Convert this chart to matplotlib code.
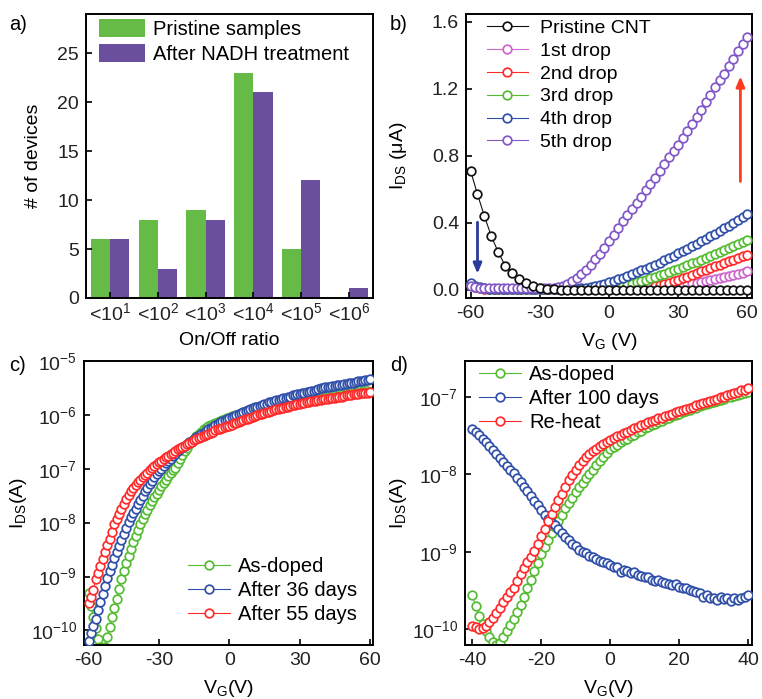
import numpy as np
import matplotlib
matplotlib.use('Agg')
import matplotlib.pyplot as plt

plt.rcParams['font.family'] = ['Liberation Sans', 'DejaVu Sans']
plt.rcParams['mathtext.fontset'] = 'custom'
plt.rcParams['mathtext.rm'] = 'Liberation Sans'
plt.rcParams['mathtext.it'] = 'Liberation Sans:italic'
plt.rcParams['mathtext.default'] = 'regular'
plt.rcParams['axes.unicode_minus'] = False

FS = 14

# ---------------- panel a: histogram of on/off ratio ----------------
a_cats = ['<10$^1$', '<10$^2$', '<10$^3$', '<10$^4$', '<10$^5$', '<10$^6$']
a_pristine = [6, 8, 9, 23, 5, 0]
a_nadh = [6, 3, 8, 21, 12, 1]

# ---------------- panel b: I_DS (uA) vs V_G, linear ----------------
b_vg_black = np.arange(-60, 61, 3)
b_black = [0.71, 0.57, 0.44, 0.32, 0.225, 0.145, 0.10, 0.065, 0.04, 0.022, 0.012, 0.006, 0.003,
           0.002, 0.002, 0.002, 0.002, 0.002, 0.002, 0.002, 0.002, 0.002, 0.002, 0.002, 0.002, 0.002, 0.002,
           0.002, 0.002, 0.002, 0.002, 0.002, 0.002, 0.002, 0.002, 0.002, 0.002, 0.002, 0.002, 0.002, 0.002]
b_vg = np.arange(-60, 61, 2)
b_drop1 = [0.03, 0.018, 0.01, 0.007, 0.005, 0.005, 0.005, 0.005, 0.005, 0.005,
           0.005, 0.005, 0.005, 0.005, 0.005, 0.005, 0.005, 0.005, 0.005, 0.005,
           0.005, 0.005, 0.005, 0.005, 0.005, 0.005, 0.005, 0.005, 0.005, 0.005,
           0.005, 0.005, 0.005, 0.005, 0.005, 0.005, 0.005, 0.005, 0.005, 0.008,
           0.01, 0.013, 0.016, 0.019, 0.023, 0.027, 0.031, 0.035, 0.039, 0.044,
           0.049, 0.054, 0.059, 0.064, 0.07, 0.076, 0.082, 0.088, 0.095, 0.102, 0.11]
b_drop2 = [0.035, 0.02, 0.012, 0.008, 0.006, 0.005, 0.005, 0.005, 0.005, 0.005,
           0.005, 0.005, 0.005, 0.005, 0.005, 0.005, 0.005, 0.005, 0.005, 0.005,
           0.005, 0.005, 0.005, 0.005, 0.005, 0.005, 0.005, 0.005, 0.005, 0.005,
           0.005, 0.005, 0.005, 0.005, 0.005, 0.006, 0.008, 0.01, 0.014, 0.018,
           0.023, 0.029, 0.036, 0.043, 0.051, 0.06, 0.07, 0.08, 0.09, 0.1,
           0.11, 0.12, 0.13, 0.14, 0.15, 0.16, 0.17, 0.18, 0.19, 0.2, 0.21]
b_drop3 = [0.035, 0.022, 0.013, 0.009, 0.007, 0.006, 0.006, 0.006, 0.006, 0.006,
           0.006, 0.006, 0.006, 0.006, 0.006, 0.006, 0.006, 0.006, 0.006, 0.006,
           0.006, 0.006, 0.006, 0.006, 0.006, 0.006, 0.006, 0.006, 0.006, 0.006,
           0.008, 0.012, 0.017, 0.023, 0.03, 0.037, 0.045, 0.053, 0.061, 0.07,
           0.079, 0.088, 0.097, 0.107, 0.117, 0.127, 0.137, 0.147, 0.158, 0.169,
           0.18, 0.191, 0.202, 0.213, 0.225, 0.237, 0.249, 0.261, 0.273, 0.286, 0.3]
b_drop4 = [0.04, 0.025, 0.015, 0.01, 0.008, 0.008, 0.008, 0.008, 0.008, 0.008,
           0.008, 0.008, 0.008, 0.008, 0.008, 0.008, 0.008, 0.008, 0.008, 0.008,
           0.008, 0.008, 0.008, 0.008, 0.009, 0.012, 0.017, 0.023, 0.03, 0.038,
           0.046, 0.055, 0.064, 0.074, 0.084, 0.094, 0.105, 0.116, 0.127, 0.139,
           0.151, 0.163, 0.176, 0.19, 0.204, 0.218, 0.232, 0.246, 0.261, 0.276,
           0.291, 0.306, 0.321, 0.336, 0.352, 0.368, 0.384, 0.4, 0.416, 0.433, 0.45]
b_drop5 = [0.025, 0.018, 0.014, 0.012, 0.011, 0.01, 0.01, 0.01, 0.01, 0.01,
           0.01, 0.01, 0.01, 0.01, 0.01, 0.01, 0.01, 0.01, 0.012, 0.016,
           0.025, 0.037, 0.052, 0.07, 0.092, 0.12, 0.15, 0.183, 0.217, 0.252,
           0.29, 0.33, 0.37, 0.41, 0.445, 0.48, 0.52, 0.556, 0.594, 0.632,
           0.67, 0.71, 0.75, 0.79, 0.828, 0.865, 0.907, 0.949, 0.991, 1.033,
           1.075, 1.119, 1.163, 1.207, 1.249, 1.29, 1.334, 1.378, 1.422, 1.466, 1.51]

# ---------------- panel c: log10 I_DS (A) vs V_G ----------------
c_vg = np.arange(-60, 61, 1)
c_asdoped = [-9.3, -9.55, -9.75, -9.95, -10.15, -10.3, -10.4, -10.3, -10.12, -9.93,
             -9.76, -9.58, -9.41, -9.23, -9.05, -8.89, -8.75, -8.61, -8.48, -8.36,
             -8.25, -8.14, -8.02, -7.93, -7.84, -7.76, -7.68, -7.6, -7.53, -7.46,
             -7.39, -7.32, -7.26, -7.2, -7.14, -7.08, -7.03, -6.98, -6.9, -6.82,
             -6.75, -6.68, -6.61, -6.55, -6.49, -6.44, -6.39, -6.35, -6.31, -6.27,
             -6.24, -6.21, -6.19, -6.17, -6.15, -6.13, -6.11, -6.09, -6.08, -6.06,
             -6.05, -6.03, -6.02, -6.0, -5.98, -5.97, -5.95, -5.94, -5.92, -5.91,
             -5.89, -5.88, -5.86, -5.85, -5.83, -5.82, -5.81, -5.79, -5.78, -5.77,
             -5.76, -5.75, -5.74, -5.72, -5.71, -5.7, -5.69, -5.68, -5.67, -5.66,
             -5.65, -5.64, -5.63, -5.62, -5.61, -5.6, -5.6, -5.59, -5.58, -5.57,
             -5.56, -5.55, -5.54, -5.54, -5.53, -5.52, -5.51, -5.5, -5.5, -5.49,
             -5.48, -5.47, -5.47, -5.46, -5.45, -5.44, -5.44, -5.43, -5.42, -5.42, -5.41]
c_36days = [-10.2, -10.05, -9.92, -9.78, -9.63, -9.48, -9.33, -9.18, -9.02, -8.9,
            -8.78, -8.66, -8.55, -8.44, -8.33, -8.22, -8.1, -7.98, -7.9, -7.83,
            -7.75, -7.66, -7.58, -7.5, -7.42, -7.35, -7.28, -7.22, -7.16, -7.1,
            -7.05, -7.0, -6.95, -6.9, -6.86, -6.81, -6.77, -6.72, -6.68, -6.64,
            -6.6, -6.57, -6.54, -6.51, -6.48, -6.45, -6.42, -6.39, -6.36, -6.33,
            -6.3, -6.27, -6.24, -6.22, -6.19, -6.17, -6.14, -6.12, -6.1, -6.08,
            -6.06, -6.04, -6.02, -6.0, -5.98, -5.96, -5.95, -5.93, -5.91, -5.9,
            -5.88, -5.86, -5.85, -5.83, -5.82, -5.8, -5.79, -5.77, -5.76, -5.74,
            -5.73, -5.72, -5.7, -5.69, -5.68, -5.67, -5.66, -5.64, -5.63, -5.62,
            -5.61, -5.6, -5.59, -5.58, -5.57, -5.56, -5.55, -5.54, -5.52, -5.51,
            -5.5, -5.49, -5.48, -5.48, -5.47, -5.46, -5.45, -5.44, -5.44, -5.43,
            -5.42, -5.41, -5.4, -5.4, -5.39, -5.38, -5.37, -5.37, -5.36, -5.35, -5.34]
c_55days = [-9.5, -9.38, -9.25, -9.05, -8.93, -8.8, -8.68, -8.55, -8.42, -8.3,
            -8.17, -8.02, -7.93, -7.84, -7.75, -7.66, -7.57, -7.48, -7.41, -7.35,
            -7.3, -7.25, -7.2, -7.15, -7.11, -7.07, -7.03, -6.99, -6.95, -6.92,
            -6.88, -6.85, -6.82, -6.79, -6.76, -6.73, -6.7, -6.67, -6.64, -6.62,
            -6.59, -6.57, -6.54, -6.52, -6.5, -6.47, -6.45, -6.43, -6.41, -6.39,
            -6.37, -6.35, -6.33, -6.31, -6.29, -6.27, -6.26, -6.24, -6.22, -6.21,
            -6.2, -6.18, -6.16, -6.15, -6.13, -6.12, -6.1, -6.08, -6.07, -6.05,
            -6.04, -6.02, -6.01, -5.99, -5.98, -5.97, -5.95, -5.94, -5.93, -5.91,
            -5.9, -5.89, -5.88, -5.87, -5.86, -5.85, -5.83, -5.82, -5.81, -5.8,
            -5.79, -5.78, -5.78, -5.77, -5.76, -5.75, -5.74, -5.74, -5.73, -5.72,
            -5.71, -5.7, -5.7, -5.69, -5.68, -5.68, -5.67, -5.66, -5.66, -5.65,
            -5.64, -5.63, -5.63, -5.62, -5.62, -5.61, -5.6, -5.6, -5.59, -5.59, -5.58]

# ---------------- panel d: log10 I_DS (A) vs V_G ----------------
d_vg = np.arange(-40, 41, 1)
d_asdoped = [-9.55, -9.7, -9.83, -9.93, -10.02, -10.1, -10.16, -10.2, -10.17, -10.1,
             -10.02, -9.94, -9.87, -9.78, -9.68, -9.58, -9.47, -9.36, -9.25, -9.14,
             -9.03, -8.94, -8.85, -8.76, -8.68, -8.6, -8.52, -8.44, -8.37, -8.3,
             -8.23, -8.17, -8.11, -8.05, -8.0, -7.94, -7.88, -7.83, -7.78, -7.73,
             -7.68, -7.65, -7.62, -7.59, -7.56, -7.54, -7.51, -7.49, -7.46, -7.44,
             -7.41, -7.39, -7.37, -7.35, -7.33, -7.31, -7.29, -7.27, -7.25, -7.23,
             -7.22, -7.2, -7.18, -7.17, -7.15, -7.14, -7.12, -7.11, -7.09, -7.08,
             -7.07, -7.05, -7.04, -7.03, -7.01, -7.0, -6.99, -6.98, -6.96, -6.95, -6.94]
d_100days = [-7.42, -7.45, -7.49, -7.54, -7.58, -7.63, -7.69, -7.74, -7.79, -7.84,
             -7.89, -7.94, -7.99, -8.05, -8.1, -8.16, -8.22, -8.28, -8.34, -8.4,
             -8.46, -8.52, -8.58, -8.63, -8.66, -8.7, -8.76, -8.81, -8.85, -8.9,
             -8.93, -8.97, -9.0, -9.02, -9.05, -9.07, -9.09, -9.12, -9.13, -9.15,
             -9.17, -9.19, -9.2, -9.26, -9.24, -9.25, -9.27, -9.26, -9.3, -9.31,
             -9.33, -9.32, -9.36, -9.37, -9.36, -9.39, -9.4, -9.41, -9.43, -9.42,
             -9.45, -9.47, -9.46, -9.49, -9.5, -9.52, -9.53, -9.58, -9.56, -9.6,
             -9.59, -9.62, -9.58, -9.61, -9.6, -9.63, -9.59, -9.62, -9.6, -9.58, -9.56]
d_reheat = [-9.95, -9.97, -9.99, -9.98, -9.95, -9.9, -9.85, -9.79, -9.72, -9.65,
            -9.58, -9.52, -9.46, -9.37, -9.29, -9.21, -9.13, -9.06, -8.99, -8.9,
            -8.8, -8.7, -8.6, -8.51, -8.42, -8.33, -8.25, -8.16, -8.08, -8.01,
            -7.94, -7.88, -7.83, -7.78, -7.74, -7.7, -7.67, -7.64, -7.61, -7.58,
            -7.56, -7.53, -7.51, -7.49, -7.47, -7.45, -7.43, -7.41, -7.39, -7.37,
            -7.35, -7.33, -7.32, -7.3, -7.28, -7.27, -7.25, -7.23, -7.22, -7.2,
            -7.19, -7.17, -7.16, -7.14, -7.13, -7.11, -7.1, -7.08, -7.07, -7.05,
            -7.04, -7.03, -7.01, -7.0, -6.98, -6.97, -6.95, -6.94, -6.92, -6.91, -6.89]

GREEN_BAR = '#66bb46'
PURPLE_BAR = '#6a4f9f'
C_BLACK = '#111111'
C_MAG = '#cc66cc'
C_RED = '#ff2a2a'
C_GREEN = '#55bb33'
C_BLUE = '#2f4fa8'
C_PURPLE = '#8258c8'


def style(ax):
    for s in ax.spines.values():
        s.set_linewidth(1.4)
        s.set_color('black')
    ax.tick_params(direction='in', length=4, width=1.2, labelsize=FS, pad=5,
                   colors='black', labelcolor='#222222')
    ax.tick_params(which='minor', length=0)


def curve(ax, x, y, color, label, z=2, ms=6.2):
    return ax.plot(x, y, '-o', color=color, lw=0.8, ms=ms, mew=1.25,
                   mfc='white', mec=color, label=label, zorder=z)[0]


fig = plt.figure(figsize=(7.62, 6.99), dpi=100)

# ---------- a ----------
ax = fig.add_axes([0.1129, 0.5737, 0.3766, 0.4063])
pos = np.arange(len(a_cats))
ax.bar(pos - 0.2, a_pristine, width=0.4, color=GREEN_BAR, label='Pristine samples')
ax.bar(pos + 0.2, a_nadh, width=0.4, color=PURPLE_BAR, label='After NADH treatment')
ax.set_xlim(-0.5, 5.5)
ax.set_ylim(0, 29)
ax.set_xticks(pos)
ax.set_xticklabels(a_cats)
ax.set_yticks([0, 5, 10, 15, 20, 25])
style(ax)
ax.tick_params(axis='x', pad=3)
ax.set_xlabel('On/Off ratio', fontsize=FS)
ax.set_ylabel('# of devices', fontsize=FS)
ax.xaxis.set_label_coords(0.5, -0.12)
ax.yaxis.set_label_coords(-0.155, 0.5)
ax.legend(loc='upper left', bbox_to_anchor=(0.03, 0.995), frameon=False, fontsize=FS + 0.5,
          handlelength=2.3, handleheight=1.0, handletextpad=0.4, labelspacing=0.22,
          borderaxespad=0, borderpad=0.2)
fig.text(0.012, 0.978, 'a)', fontsize=FS + 0.5, va='top', ha='left')

# ---------- b ----------
ax = fig.add_axes([0.6115, 0.5737, 0.3753, 0.4063])
h0 = curve(ax, b_vg_black, b_black, C_BLACK, 'Pristine CNT', z=8)
h1 = curve(ax, b_vg, b_drop1, C_MAG, '1st drop', z=3)
h2 = curve(ax, b_vg, b_drop2, C_RED, '2nd drop', z=4)
h3 = curve(ax, b_vg, b_drop3, C_GREEN, '3rd drop', z=5)
h4 = curve(ax, b_vg, b_drop4, C_BLUE, '4th drop', z=6)
h5 = curve(ax, b_vg, b_drop5, C_PURPLE, '5th drop', z=7)
ax.annotate('', xy=(-57, 0.08), xytext=(-57, 0.42),
            arrowprops=dict(arrowstyle='-|>,head_length=0.6,head_width=0.25', color='#2b3a9a', lw=2))
ax.annotate('', xy=(57, 1.29), xytext=(57, 0.63),
            arrowprops=dict(arrowstyle='-|>,head_length=0.6,head_width=0.25', color='#ff3b1f', lw=2))
ax.set_xlim(-62, 62)
ax.set_ylim(-0.048, 1.645)
ax.set_xticks([-60, -30, 0, 30, 60])
ax.set_yticks([0.0, 0.4, 0.8, 1.2, 1.6])
ax.set_yticklabels(['0.0', '0.4', '0.8', '1.2', '1.6'])
style(ax)
ax.set_xlabel('V$_G$ (V)', fontsize=FS)
ax.set_ylabel('I$_{DS}$ (μA)', fontsize=FS)
ax.xaxis.set_label_coords(0.5, -0.115)
ax.yaxis.set_label_coords(-0.2, 0.5)
ax.legend(handles=[h0, h1, h2, h3, h4, h5], loc='upper left', bbox_to_anchor=(0.06, 0.995),
          frameon=False, fontsize=FS, handlelength=2.1, handletextpad=0.6, labelspacing=0.27,
          borderaxespad=0, borderpad=0.2)
fig.text(0.512, 0.978, 'b)', fontsize=FS + 0.5, va='top', ha='left')

# ---------- c ----------
ax = fig.add_axes([0.1102, 0.0773, 0.3793, 0.4063])
curve(ax, c_vg, 10.0 ** np.array(c_asdoped), C_GREEN, 'As-doped', z=2)
curve(ax, c_vg, 10.0 ** np.array(c_36days), C_BLUE, 'After 36 days', z=3)
curve(ax, c_vg, 10.0 ** np.array(c_55days), C_RED, 'After 55 days', z=4)
ax.set_yscale('log')
ax.set_xlim(-62, 61.3)
ax.set_ylim(10 ** -10.27, 1e-5)
ax.set_xticks([-60, -30, 0, 30, 60])
ax.set_yticks([1e-10, 1e-9, 1e-8, 1e-7, 1e-6, 1e-5])
ax.set_yticklabels(['10$^{-10}$', '10$^{-9}$', '10$^{-8}$', '10$^{-7}$', '10$^{-6}$', '10$^{-5}$'])
style(ax)
ax.set_xlabel('V$_G$(V)', fontsize=FS)
ax.set_ylabel('I$_{DS}$(A)', fontsize=FS)
ax.xaxis.set_label_coords(0.5, -0.115)
ax.yaxis.set_label_coords(-0.19, 0.5)
ax.legend(loc='lower left', bbox_to_anchor=(0.345, 0.06), frameon=False, fontsize=FS + 0.5,
          handlelength=2.1, handletextpad=0.4, labelspacing=0.25, borderaxespad=0, borderpad=0.2)
fig.text(0.012, 0.49, 'c)', fontsize=FS + 0.5, va='top', ha='left')

# ---------- d ----------
ax = fig.add_axes([0.6102, 0.0773, 0.3766, 0.4063])
curve(ax, d_vg, 10.0 ** np.array(d_asdoped), C_GREEN, 'As-doped', z=2)
curve(ax, d_vg, 10.0 ** np.array(d_100days), C_BLUE, 'After 100 days', z=3)
curve(ax, d_vg, 10.0 ** np.array(d_reheat), C_RED, 'Re-heat', z=4)
ax.set_yscale('log')
ax.set_xlim(-42.1, 41.1)
ax.set_ylim(10 ** -10.2, 10 ** -6.54)
ax.set_xticks([-40, -20, 0, 20, 40])
ax.set_yticks([1e-10, 1e-9, 1e-8, 1e-7])
ax.set_yticklabels(['10$^{-10}$', '10$^{-9}$', '10$^{-8}$', '10$^{-7}$'])
style(ax)
ax.set_xlabel('V$_G$(V)', fontsize=FS)
ax.set_ylabel('I$_{DS}$(A)', fontsize=FS)
ax.xaxis.set_label_coords(0.5, -0.115)
ax.yaxis.set_label_coords(-0.195, 0.5)
ax.legend(loc='upper left', bbox_to_anchor=(0.035, 1.0), frameon=False, fontsize=FS + 0.5,
          handlelength=2.1, handletextpad=0.4, labelspacing=0.25, borderaxespad=0, borderpad=0.2)
fig.text(0.512, 0.49, 'd)', fontsize=FS + 0.5, va='top', ha='left')

fig.savefig('out.png', dpi=100)
